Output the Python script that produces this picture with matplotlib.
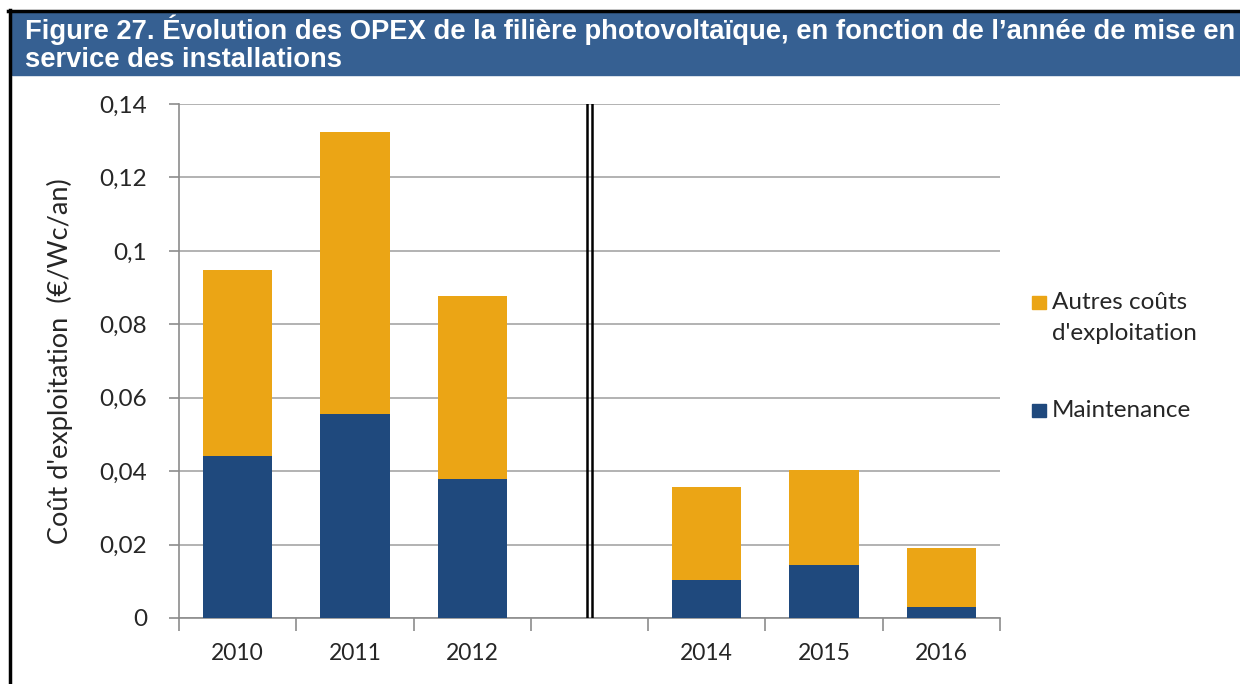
import matplotlib
matplotlib.use("Agg")
import matplotlib.pyplot as plt
from matplotlib.patches import Rectangle
from matplotlib.lines import Line2D
from matplotlib.ticker import FuncFormatter, MultipleLocator

# données
categories = ["2010", "2011", "2012", "", "2014", "2015", "2016"]
maintenance = [0.0441, 0.0556, 0.0379, 0.0, 0.0104, 0.0144, 0.0030]
autres = [0.0507, 0.0768, 0.0498, 0.0, 0.0253, 0.0259, 0.0161]

BLUE = "#1F497D"
ORANGE = "#EBA515"
BAR_TITLE = "#366092"
TXT = "#262626"

plt.rcParams["font.family"] = ["Lato", "DejaVu Sans"]

fig = plt.figure(figsize=(12.4, 6.84), dpi=100)
ax = fig.add_axes([179 / 1240, 1 - 618 / 684, 821 / 1240, 514 / 684])

x = list(range(len(categories)))
b1 = ax.bar(x, maintenance, width=0.59, color=BLUE, zorder=3)
b2 = ax.bar(x, autres, bottom=maintenance, width=0.59, color=ORANGE, zorder=3)

ax.set_xlim(-0.5, len(categories) - 0.5)
ax.set_ylim(0, 0.14)
ax.yaxis.set_major_locator(MultipleLocator(0.02))
ax.yaxis.set_major_formatter(FuncFormatter(lambda v, p: "0" if v == 0 else f"{v:.2f}".rstrip("0").replace(".", ",")))
ax.grid(axis="y", color="#A6A6A6", linewidth=1.2, zorder=0)

ax.set_xticks(x)
ax.set_xticklabels(categories)
ax.set_xticks([i - 0.5 for i in range(len(categories) + 1)], minor=True)
ax.tick_params(axis="x", which="major", length=0, pad=18, labelsize=16.5, labelcolor=TXT)
ax.tick_params(axis="x", which="minor", length=9, color="#8C8C8C", width=1.2)
ax.tick_params(axis="y", length=7, color="#8C8C8C", width=1.2, pad=16, labelsize=17.5, labelcolor=TXT)

for s in ["top", "right"]:
    ax.spines[s].set_visible(False)
for s in ["left", "bottom"]:
    ax.spines[s].set_color("#8C8C8C")
    ax.spines[s].set_linewidth(1.2)

# double trait de séparation
for dx in (-0.022, 0.022):
    ax.axvline(3 + dx, ymin=0, ymax=1, color="black", linewidth=1.8, zorder=4)

ax.set_ylabel("Coût d'exploitation  (€/Wc/an)", fontsize=19.5, color=TXT)
ax.yaxis.set_label_coords((73 - 179) / 821, 0.5)

# légende
fig.patches.append(Rectangle((1032 / 1240, 1 - 309 / 684), 14 / 1240, 13 / 684,
                             transform=fig.transFigure, color=b2.patches[0].get_facecolor()))
fig.text(1052 / 1240, 1 - 303 / 684, "Autres coûts", fontsize=17.5, va="center", ha="left", color=TXT)
fig.text(1052 / 1240, 1 - 334 / 684, "d'exploitation", fontsize=17.5, va="center", ha="left", color=TXT)
fig.patches.append(Rectangle((1032 / 1240, 1 - 417 / 684), 14 / 1240, 13 / 684,
                             transform=fig.transFigure, color=b1.patches[0].get_facecolor()))
fig.text(1052 / 1240, 1 - 410 / 684, "Maintenance", fontsize=17.5, va="center", ha="left", color=TXT)

# bandeau titre et cadre
fig.patches.append(Rectangle((12 / 1240, 1 - 75 / 684), 1, 63 / 684,
                             transform=fig.transFigure, color=BAR_TITLE))
fig.lines.append(Line2D([8 / 1240, 1], [1 - 11 / 684, 1 - 11 / 684], transform=fig.transFigure,
                        color="black", linewidth=2.5))
fig.lines.append(Line2D([10 / 1240, 10 / 1240], [0, 1 - 10 / 684], transform=fig.transFigure,
                        color="black", linewidth=2.5))
fig.text(25 / 1240, 1 - 30 / 684, "Figure 27. Évolution des OPEX de la filière photovoltaïque, en fonction de l’année de mise en",
         family=["Liberation Sans", "DejaVu Sans"], fontweight="bold", fontsize=19.7, color="white", va="center")
fig.text(25 / 1240, 1 - 60 / 684, "service des installations",
         family=["Liberation Sans", "DejaVu Sans"], fontweight="bold", fontsize=19.7, color="white", va="center")

fig.savefig("out.png", dpi=100)
plt.close(fig)
